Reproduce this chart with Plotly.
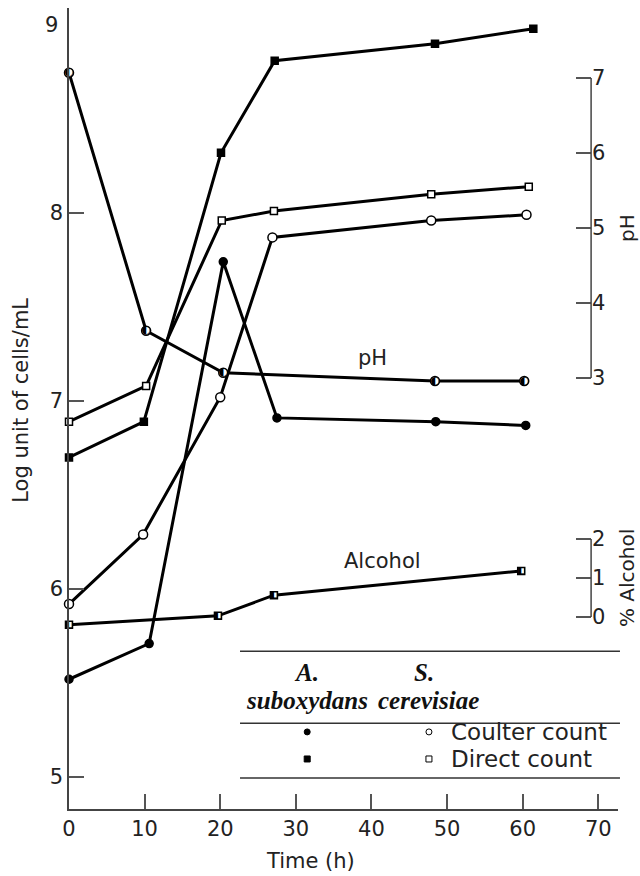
import plotly.graph_objects as go

# time (h) and log unit of cells/mL
a_coulter_t = [0, 10.6, 20.4, 27.5, 48.5, 60.4]
a_coulter = [5.52, 5.71, 7.74, 6.91, 6.89, 6.87]
s_coulter_t = [0, 9.8, 20, 26.9, 47.9, 60.5]
s_coulter = [5.92, 6.29, 7.02, 7.87, 7.96, 7.99]
a_direct_t = [0, 9.9, 20.1, 27.2, 48.4, 61.4]
a_direct = [6.70, 6.89, 8.32, 8.81, 8.90, 8.98]
s_direct_t = [0, 10.2, 20.2, 27.1, 47.9, 60.8]
s_direct = [6.89, 7.08, 7.96, 8.01, 8.10, 8.14]
# pH and % alcohol (own right-hand axes)
ph_t = [0, 10.2, 20.4, 48.4, 60.2]
ph = [7.07, 3.63, 3.07, 2.96, 2.96]
alc_t = [0, 19.7, 27.1, 59.8]
alcohol = [-0.2, 0.03, 0.56, 1.18]

x_ticks = [0, 10, 20, 30, 40, 50, 60, 70]
y_ticks = [5, 6, 7, 8]
ph_ticks = [3, 4, 5, 6, 7]
alc_ticks = [0, 1, 2]

SANS = "DejaVu Sans"
TXT = "#222222"
AX = "#444444"
FS = 21
RPOS = 0.951  # x position (paper) of the right-hand pH / alcohol scales

fig = go.Figure()

def series(x, y, symbol, fill, size, yaxis="y"):
    fig.add_trace(go.Scatter(
        x=x, y=y, mode="lines+markers", yaxis=yaxis, cliponaxis=False,
        line=dict(color="black", width=3),
        marker=dict(symbol=symbol, size=size, color=fill,
                    line=dict(color="black", width=1.5)),
        showlegend=False, hoverinfo="skip"))

def half_series(x, y, glyph, size, yaxis):
    fig.add_trace(go.Scatter(
        x=x, y=y, mode="lines+markers+text", yaxis=yaxis, cliponaxis=False,
        line=dict(color="black", width=3),
        marker=dict(symbol="circle" if glyph == "◐" else "square", size=size,
                    color="white", line=dict(color="black", width=1.5)),
        text=[glyph] * len(x), textposition="middle center",
        textfont=dict(family=SANS, size=size + 2, color="black"),
        showlegend=False, hoverinfo="skip"))

series(a_direct_t, a_direct, "square", "black", 7)
series(s_direct_t, s_direct, "square", "white", 7)
series(s_coulter_t, s_coulter, "circle", "white", 9)
series(a_coulter_t, a_coulter, "circle", "black", 8)
half_series(ph_t, ph, "◐", 9, "y2")
half_series(alc_t, alcohol, "◧", 7, "y3")

# legend table keys
key_x = [31.5, 47.6]
key_y = [5.24, 5.096]
for kx, fill in zip(key_x, ["black", "white"]):
    for ky, sym in zip(key_y, ["circle", "square"]):
        fig.add_trace(go.Scatter(
            x=[kx], y=[ky], mode="markers", cliponaxis=False,
            marker=dict(symbol=sym, size=6, color=fill,
                        line=dict(color="black", width=1)),
            showlegend=False, hoverinfo="skip"))

axis_common = dict(showgrid=False, zeroline=False, ticks="inside", ticklen=15,
                   tickwidth=1.5, tickcolor="#555555",
                   tickfont=dict(family=SANS, size=FS, color=TXT))

fig.update_layout(
    width=640, height=876,
    margin=dict(l=69, r=22, t=8, b=67),
    plot_bgcolor="white", paper_bgcolor="white",
    font=dict(family=SANS, size=FS, color=TXT),
    xaxis=dict(range=[0, 72.6], tickvals=x_ticks, showline=True,
               linecolor=AX, linewidth=1.5, **axis_common),
    yaxis=dict(range=[4.83, 9.09], tickvals=y_ticks, showline=True,
               linecolor=AX, linewidth=1.5, **axis_common),
    yaxis2=dict(range=[-2.747, 7.933], tickvals=ph_ticks, overlaying="y",
                side="right", anchor="free", position=RPOS, showline=False,
                **axis_common),
    yaxis3=dict(range=[-4.923, 15.615], tickvals=alc_ticks, overlaying="y",
                side="right", anchor="free", position=RPOS, showline=False,
                **axis_common),
)

# spines of the short right-hand scales
fig.add_shape(type="line", xref="paper", yref="y2", x0=RPOS, x1=RPOS,
              y0=ph_ticks[0], y1=ph_ticks[-1], line=dict(color=AX, width=1.5))
fig.add_shape(type="line", xref="paper", yref="y3", x0=RPOS, x1=RPOS,
              y0=alc_ticks[0], y1=alc_ticks[-1], line=dict(color=AX, width=1.5))

# legend table rules
for ry in [0.197, 0.107, 0.0387]:
    fig.add_shape(type="line", xref="paper", yref="paper", x0=0.3115, x1=1.0036,
                  y0=ry, y1=ry, line=dict(color="#333333", width=1.5))

def note(text, x, y, xref="paper", yref="paper", angle=0, xanchor="center",
         font=None):
    fig.add_annotation(text=text, x=x, y=y, xref=xref, yref=yref,
                       textangle=angle, showarrow=False, xanchor=xanchor,
                       yanchor="middle",
                       font=font or dict(family=SANS, size=FS, color=TXT))

serif = dict(family="Liberation Serif", size=25, color="#111111",
             weight="bold", style="italic")
note("A.", 0.4335, 0.170, font=serif)
note("suboxydans", 0.4335, 0.136, font=serif)
note("S.", 0.6466, 0.170, font=serif)
note("cerevisiae", 0.6557, 0.136, font=serif)
legend_font = dict(family=SANS, size=23, color=TXT)
note("Coulter count", 0.692, 0.0961, xanchor="left", font=legend_font)
note("Direct count", 0.692, 0.0624, xanchor="left", font=legend_font)

side_font = dict(family=SANS, size=20, color=TXT)
note("9", -0.016, 9, yref="y", xanchor="right")
note("pH", 40.1, 7.23, xref="x", yref="y")
note("Alcohol", 41.4, 6.15, xref="x", yref="y")
note("pH", 1.0165, 5, yref="y2", angle=-90, font=side_font)
note("% Alcohol", 1.0165, 1, yref="y3", angle=-90, font=side_font)
note("Log unit of cells/mL", -0.087, 0.51, angle=-90)
note("Time (h)", 32, -0.065, xref="x")

fig.write_html("out.html", config={"displayModeBar": False},
               post_script="document.body.style.margin='0';")
